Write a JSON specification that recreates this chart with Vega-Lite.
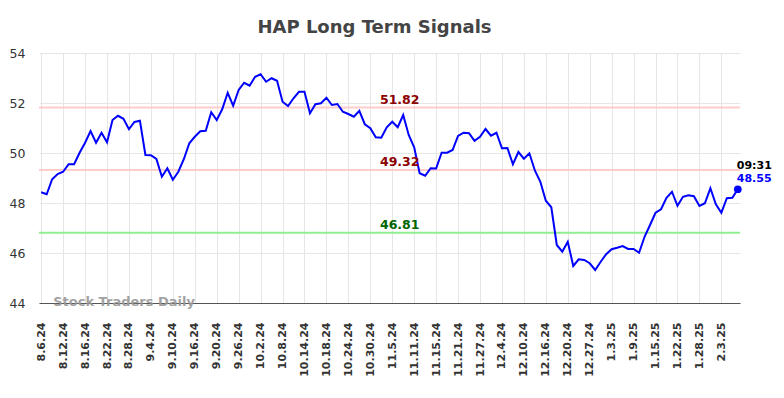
{
  "$schema": "https://vega.github.io/schema/vega-lite/v6.json",
  "width": 701,
  "height": 250,
  "autosize": {"type": "none"},
  "padding": {"left": 39, "top": 53, "right": 44, "bottom": 95},
  "background": "white",
  "title": {"text": "HAP Long Term Signals", "font": "DejaVu Sans", "fontSize": 18, "fontWeight": "bold", "color": "#444444", "anchor": "middle", "dx": -15, "dy": 18, "offset": 14, "baseline": "alphabetic"},
  "config": {
    "view": {"stroke": null},
    "axis": {"title": null, "gridColor": "#e6e6e6", "gridWidth": 1, "ticks": false, "tickSize": 0, "labelFont": "DejaVu Sans"}
  },
  "datasets": {
    "price": [
      {"d": "8.6.24", "v": 48.43}, {"d": "8.7.24", "v": 48.35}, {"d": "8.8.24", "v": 48.95}, {"d": "8.9.24", "v": 49.16},
      {"d": "8.12.24", "v": 49.25}, {"d": "8.13.24", "v": 49.55}, {"d": "8.14.24", "v": 49.55}, {"d": "8.15.24", "v": 50.01},
      {"d": "8.16.24", "v": 50.41}, {"d": "8.19.24", "v": 50.88}, {"d": "8.20.24", "v": 50.41}, {"d": "8.21.24", "v": 50.81},
      {"d": "8.22.24", "v": 50.43}, {"d": "8.23.24", "v": 51.32}, {"d": "8.26.24", "v": 51.49}, {"d": "8.27.24", "v": 51.37},
      {"d": "8.28.24", "v": 50.95}, {"d": "8.29.24", "v": 51.24}, {"d": "8.30.24", "v": 51.29}, {"d": "9.3.24", "v": 49.92},
      {"d": "9.4.24", "v": 49.91}, {"d": "9.5.24", "v": 49.76}, {"d": "9.6.24", "v": 49.05}, {"d": "9.9.24", "v": 49.39},
      {"d": "9.10.24", "v": 48.93}, {"d": "9.11.24", "v": 49.25}, {"d": "9.12.24", "v": 49.75}, {"d": "9.13.24", "v": 50.39},
      {"d": "9.16.24", "v": 50.65}, {"d": "9.17.24", "v": 50.87}, {"d": "9.18.24", "v": 50.89}, {"d": "9.19.24", "v": 51.63},
      {"d": "9.20.24", "v": 51.32}, {"d": "9.23.24", "v": 51.75}, {"d": "9.24.24", "v": 52.41}, {"d": "9.25.24", "v": 51.89},
      {"d": "9.26.24", "v": 52.52}, {"d": "9.27.24", "v": 52.81}, {"d": "9.30.24", "v": 52.69}, {"d": "10.1.24", "v": 53.05},
      {"d": "10.2.24", "v": 53.15}, {"d": "10.3.24", "v": 52.85}, {"d": "10.4.24", "v": 52.99}, {"d": "10.7.24", "v": 52.89},
      {"d": "10.8.24", "v": 52.05}, {"d": "10.9.24", "v": 51.88}, {"d": "10.10.24", "v": 52.19}, {"d": "10.11.24", "v": 52.45},
      {"d": "10.14.24", "v": 52.45}, {"d": "10.15.24", "v": 51.59}, {"d": "10.16.24", "v": 51.95}, {"d": "10.17.24", "v": 51.99},
      {"d": "10.18.24", "v": 52.21}, {"d": "10.21.24", "v": 51.92}, {"d": "10.22.24", "v": 51.96}, {"d": "10.23.24", "v": 51.65},
      {"d": "10.24.24", "v": 51.56}, {"d": "10.25.24", "v": 51.45}, {"d": "10.28.24", "v": 51.69}, {"d": "10.29.24", "v": 51.15},
      {"d": "10.30.24", "v": 50.99}, {"d": "10.31.24", "v": 50.63}, {"d": "11.1.24", "v": 50.61}, {"d": "11.4.24", "v": 51.03},
      {"d": "11.5.24", "v": 51.25}, {"d": "11.6.24", "v": 51.03}, {"d": "11.7.24", "v": 51.52}, {"d": "11.8.24", "v": 50.72},
      {"d": "11.11.24", "v": 50.23}, {"d": "11.12.24", "v": 49.19}, {"d": "11.13.24", "v": 49.09}, {"d": "11.14.24", "v": 49.39},
      {"d": "11.15.24", "v": 49.38}, {"d": "11.18.24", "v": 50.01}, {"d": "11.19.24", "v": 50.01}, {"d": "11.20.24", "v": 50.12},
      {"d": "11.21.24", "v": 50.68}, {"d": "11.22.24", "v": 50.81}, {"d": "11.25.24", "v": 50.79}, {"d": "11.26.24", "v": 50.49},
      {"d": "11.27.24", "v": 50.65}, {"d": "11.29.24", "v": 50.96}, {"d": "12.2.24", "v": 50.69}, {"d": "12.3.24", "v": 50.81},
      {"d": "12.4.24", "v": 50.19}, {"d": "12.5.24", "v": 50.2}, {"d": "12.6.24", "v": 49.55}, {"d": "12.9.24", "v": 50.04},
      {"d": "12.10.24", "v": 49.77}, {"d": "12.11.24", "v": 49.99}, {"d": "12.12.24", "v": 49.3}, {"d": "12.13.24", "v": 48.85},
      {"d": "12.16.24", "v": 48.09}, {"d": "12.17.24", "v": 47.83}, {"d": "12.18.24", "v": 46.32}, {"d": "12.19.24", "v": 46.05},
      {"d": "12.20.24", "v": 46.45}, {"d": "12.23.24", "v": 45.48}, {"d": "12.24.24", "v": 45.75}, {"d": "12.26.24", "v": 45.72},
      {"d": "12.27.24", "v": 45.59}, {"d": "12.30.24", "v": 45.32}, {"d": "12.31.24", "v": 45.65}, {"d": "1.2.25", "v": 45.95},
      {"d": "1.3.25", "v": 46.15}, {"d": "1.6.25", "v": 46.21}, {"d": "1.7.25", "v": 46.28}, {"d": "1.8.25", "v": 46.16},
      {"d": "1.9.25", "v": 46.16}, {"d": "1.10.25", "v": 46.01}, {"d": "1.13.25", "v": 46.65}, {"d": "1.14.25", "v": 47.12},
      {"d": "1.15.25", "v": 47.61}, {"d": "1.16.25", "v": 47.75}, {"d": "1.17.25", "v": 48.21}, {"d": "1.21.25", "v": 48.45},
      {"d": "1.22.25", "v": 47.89}, {"d": "1.23.25", "v": 48.25}, {"d": "1.24.25", "v": 48.31}, {"d": "1.27.25", "v": 48.27},
      {"d": "1.28.25", "v": 47.88}, {"d": "1.29.25", "v": 47.99}, {"d": "1.30.25", "v": 48.59}, {"d": "1.31.25", "v": 47.95},
      {"d": "2.3.25", "v": 47.61}, {"d": "2.4.25", "v": 48.19}, {"d": "2.5.25", "v": 48.21}, {"d": "2.6.25", "v": 48.55}
    ],
    "levels": [
      {"level": 51.82, "signal": "resistance"},
      {"level": 49.32, "signal": "resistance"},
      {"level": 46.81, "signal": "support"}
    ]
  },
  "layer": [
    {
      "data": {"name": "levels"},
      "mark": {"type": "rule", "strokeWidth": 2},
      "encoding": {
        "y": {"field": "level", "type": "quantitative", "scale": {"domain": [44, 54], "nice": false, "zero": false}},
        "color": {"field": "signal", "type": "nominal", "scale": {"domain": ["resistance", "support"], "range": ["#ffcccc", "#90ee90"]}, "legend": null}
      }
    },
    {
      "data": {"name": "price"},
      "mark": {"type": "line", "color": "#0000ff", "strokeWidth": 2},
      "encoding": {
        "x": {"field": "d", "type": "ordinal", "sort": null, "scale": {"type": "point", "padding": 0.4},
          "axis": {"values": ["8.6.24","8.12.24","8.16.24","8.22.24","8.28.24","9.4.24","9.10.24","9.16.24","9.20.24","9.26.24","10.2.24","10.8.24","10.14.24","10.18.24","10.24.24","10.30.24","11.5.24","11.11.24","11.15.24","11.21.24","11.27.24","12.4.24","12.10.24","12.16.24","12.20.24","12.27.24","1.3.25","1.9.25","1.15.25","1.22.25","1.28.25","2.3.25"],
            "labelAngle": -90, "labelFontSize": 11, "labelFontWeight": "bold", "labelColor": "#333333", "labelPadding": 19, "labelOverlap": false, "domainColor": "#555555", "domainWidth": 1.2, "grid": true}},
        "y": {"field": "v", "type": "quantitative", "scale": {"domain": [44, 54], "nice": false, "zero": false},
          "axis": {"values": [44, 46, 48, 50, 52, 54], "labelFontSize": 12.5, "labelColor": "#333333", "labelPadding": 14, "domain": false, "grid": true}}
      }
    },
    {
      "data": {"name": "levels"},
      "mark": {"type": "text", "font": "DejaVu Sans", "fontSize": 12.5, "fontWeight": "bold", "baseline": "bottom", "dy": -1, "dx": 2},
      "encoding": {
        "x": {"datum": "11.6.24", "type": "ordinal"},
        "y": {"field": "level", "type": "quantitative"},
        "text": {"field": "level", "type": "quantitative", "format": ".2f"},
        "color": {"field": "signal", "type": "nominal", "scale": {"domain": ["resistance", "support"], "range": ["#8b0000", "#006400"]}, "legend": null}
      }
    },
    {
      "data": {"name": "price"},
      "transform": [{"filter": "datum.d === '2.6.25'"}],
      "layer": [
        {"mark": {"type": "point", "filled": true, "color": "#0000ff", "size": 60, "opacity": 1}},
        {"mark": {"type": "text", "font": "DejaVu Sans", "fontSize": 11, "fontWeight": "bold", "color": "#0000ff", "align": "left", "baseline": "middle", "dx": -1, "dy": -10},
          "encoding": {"text": {"field": "v", "type": "quantitative", "format": ".2f"}}},
        {"mark": {"type": "text", "font": "DejaVu Sans", "fontSize": 11, "fontWeight": "bold", "color": "#000000", "align": "left", "baseline": "middle", "dx": -1, "dy": -23, "text": "09:31"}}
      ],
      "encoding": {
        "x": {"field": "d", "type": "ordinal", "sort": null},
        "y": {"field": "v", "type": "quantitative"}
      }
    },
    {
      "data": {"values": [{"label": "Stock Traders Daily"}]},
      "mark": {"type": "text", "font": "DejaVu Sans", "fontSize": 13, "fontWeight": "bold", "color": "#999999", "opacity": 0.9, "align": "left", "baseline": "alphabetic", "dx": 12, "dy": 3},
      "encoding": {
        "x": {"datum": "8.6.24", "type": "ordinal"},
        "y": {"datum": 44, "type": "quantitative"},
        "text": {"field": "label", "type": "nominal"}
      }
    }
  ],
  "resolve": {"scale": {"color": "independent"}}
}
